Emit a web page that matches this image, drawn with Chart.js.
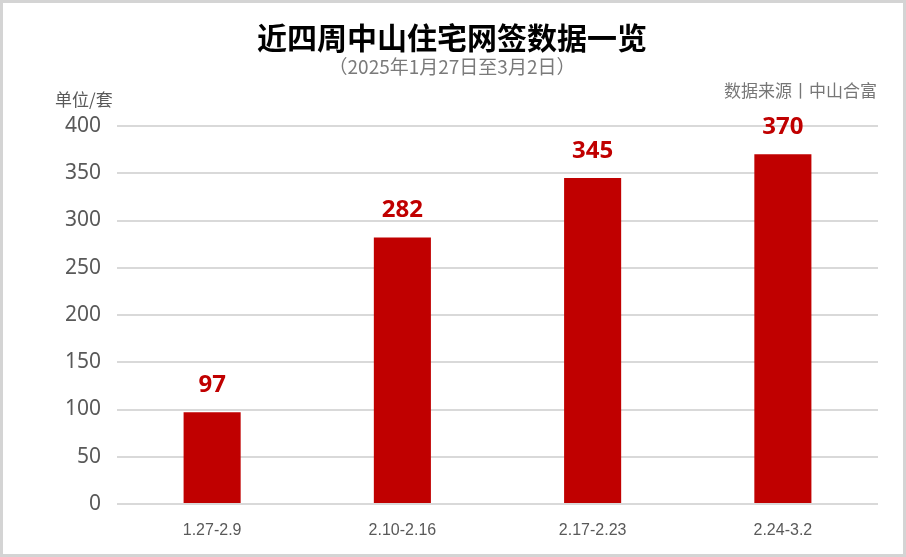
<!DOCTYPE html>
<html>
<head>
<meta charset="utf-8">
<script src="https://cdn.jsdelivr.net/npm/chart.js@4"></script>
<style>
  html, body { margin: 0; padding: 0; background: #fff; }
  #wrap { width: 906px; height: 557px; position: relative; }
</style>
</head>
<body>
<div id="wrap"><canvas id="netSignChart" width="906" height="557"></canvas></div>
<script>
// 数据
const weeks = ['1.27-2.9', '2.10-2.16', '2.17-2.23', '2.24-3.2'];
const deals = [97, 282, 345, 370];
const yTicks = [0, 50, 100, 150, 200, 250, 300, 350, 400];

const titleText = '近四周中山住宅网签数据一览';
const subtitleText = '（2025年1月27日至3月2日）';
const unitText = '单位/套';
const sourceText = '数据来源丨中山合富';

const CJK = '"Noto Sans CJK SC", "Noto Sans", sans-serif';

// 标题、边框和柱顶数值
const decorPlugin = {
    id: 'decor',
    beforeDraw(chart) {
        const c = chart.ctx;
        c.save();
        c.fillStyle = '#ffffff';
        c.fillRect(0, 0, chart.width, chart.height);
        c.restore();
    },
    afterDraw(chart) {
        const c = chart.ctx;
        c.save();
        c.textAlign = 'center';
        c.textBaseline = 'middle';
        c.fillStyle = '#000000';
        c.font = 'bold 30px ' + CJK;
        c.fillText(titleText, 452, 38);
        c.fillStyle = '#7a7a7a';
        c.font = '19px ' + CJK;
        c.fillText(subtitleText, 452, 67);

        c.textAlign = 'left';
        c.fillStyle = '#595959';
        c.font = '17px ' + CJK;
        c.fillText(unitText, 55, 100);
        c.textAlign = 'right';
        c.fillStyle = '#767676';
        c.fillText(sourceText, 877, 91);

        // 数值标签
        const meta = chart.getDatasetMeta(0);
        c.textAlign = 'center';
        c.fillStyle = '#C00000';
        c.font = 'bold 24px "Noto Sans", "DejaVu Sans", sans-serif';
        meta.data.forEach((bar, i) => {
            c.fillText(String(deals[i]), bar.x, bar.y - 27);
        });

        // 外框
        c.strokeStyle = '#d4d4d4';
        c.lineWidth = 3;
        c.strokeRect(1.5, 1.5, chart.width - 3, chart.height - 3);
        c.restore();
    }
};

const ctx = document.getElementById('netSignChart').getContext('2d');
const netSignChart = new Chart(ctx, {
    type: 'bar',
    data: {
        labels: weeks,
        datasets: [{
            label: '网签套数',
            data: deals,
            backgroundColor: '#C00000',
            barPercentage: 0.3,
            categoryPercentage: 1
        }]
    },
    options: {
        responsive: false,
        animation: false,
        layout: {
            padding: { top: 126, right: 28, bottom: 13, left: 0 }
        },
        plugins: {
            legend: { display: false },
            tooltip: { enabled: false }
        },
        scales: {
            x: {
                grid: { display: false },
                border: { display: false },
                ticks: {
                    color: '#595959',
                    padding: 9,
                    font: { family: '"Liberation Sans Narrow", "Liberation Sans", sans-serif', size: 16 }
                },
                afterFit(scale) { scale.height = 40; }
            },
            y: {
                min: 0,
                max: 400,
                afterBuildTicks(scale) {
                    scale.ticks = yTicks.map(v => ({ value: v }));
                },
                grid: {
                    color: '#d9d9d9',
                    lineWidth: 2,
                    drawTicks: false
                },
                border: { display: false },
                ticks: {
                    color: '#595959',
                    padding: 16,
                    font: { family: '"Noto Sans", sans-serif', size: 21 }
                },
                afterFit(scale) { scale.width = 117; }
            }
        }
    },
    plugins: [decorPlugin]
});
</script>
</body>
</html>
